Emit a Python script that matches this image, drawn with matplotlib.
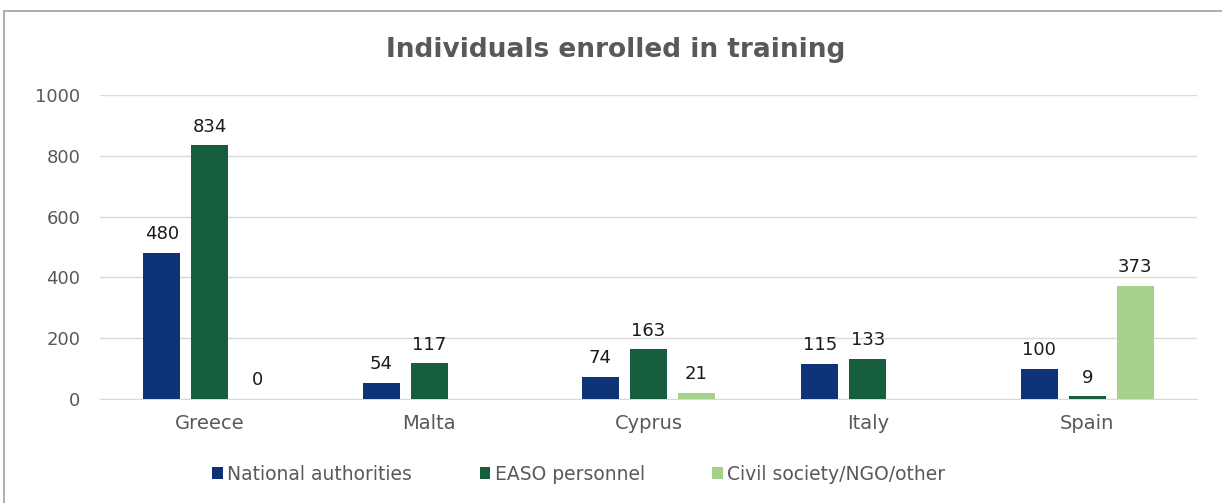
import matplotlib
matplotlib.use("Agg")
import matplotlib.pyplot as plt
import numpy as np
from matplotlib.patches import Rectangle

categories = ["Greece", "Malta", "Cyprus", "Italy", "Spain"]
series_names = ["National authorities", "EASO personnel", "Civil society/NGO/other"]
national = [480, 54, 74, 115, 100]
easo = [834, 117, 163, 133, 9]
civil = [0, None, 21, None, 373]
colors = ["#0f3377", "#175e3f", "#a8d08d"]
yticks = [0, 200, 400, 600, 800, 1000]

plt.rcParams['font.family'] = ['DejaVu Sans']
fig = plt.figure(figsize=(12.22, 5.03), dpi=100)
ax = fig.add_axes([100/1222, 1-399/503, 1097/1222, 304/503])

x = np.arange(len(categories))
w = 0.169
offsets = [-0.219, 0.0, 0.219]
for vals, off, col, name in zip([national, easo, civil], offsets, colors, series_names):
    xs = [xi + off for xi, v in zip(x, vals) if v is not None]
    vs = [v for v in vals if v is not None]
    ax.bar(xs, vs, width=w, color=col, label=name, zorder=3)
    for xi, v in zip(xs, vs):
        ax.annotate(str(v), (xi, v), xytext=(0, 7), textcoords="offset points",
                    ha="center", va="bottom", fontsize=13, color="#1a1a1a")

ax.set_xlim(-0.5, len(categories) - 0.5)
ax.set_ylim(0, 1000)
ax.set_yticks(yticks)
ax.set_xticks(x)
ax.set_xticklabels(categories)
ax.grid(axis="y", color="#d9d9d9", linewidth=1, zorder=0)
for s in ["top", "right", "left"]:
    ax.spines[s].set_visible(False)
ax.spines["bottom"].set_color("#d9d9d9")
ax.tick_params(axis="both", length=0, labelcolor="#595959")
ax.tick_params(axis="y", pad=14, labelsize=13)
ax.tick_params(axis="x", pad=11, labelsize=14)

fig.text(616/1222, 1-50/503, "Individuals enrolled in training", ha="center", va="center",
         fontsize=19, fontweight="bold", color="#595959")

leg = fig.legend(loc="center", bbox_to_anchor=(579/1222, 1-474/503), ncol=3, frameon=False,
                 fontsize=13.5, handlelength=0.55, handleheight=0.55, handletextpad=0.25,
                 columnspacing=3.6)
for t in leg.get_texts():
    t.set_color("#595959")

fig.patches.append(Rectangle((4/1222, -0.01), 1.05, 1-11/503 + 0.01, transform=fig.transFigure,
                             fill=False, edgecolor="#a0a0a0", linewidth=1.2))

fig.savefig("out.png", dpi=100, facecolor="white")
